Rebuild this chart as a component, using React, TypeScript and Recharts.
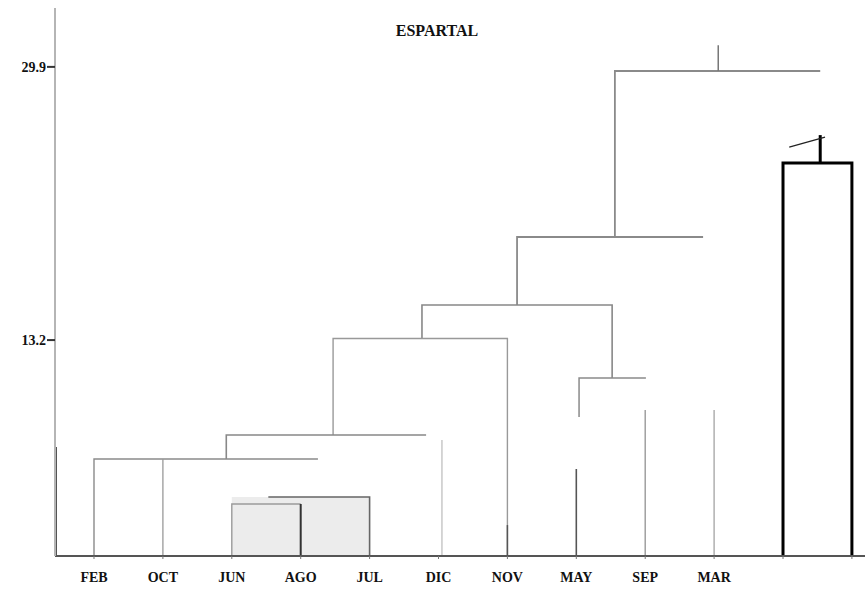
import { ComposedChart, Line, XAxis, YAxis, ReferenceArea } from "recharts";

// leaf order along the bottom of the dendrogram
const months = ["FEB", "OCT", "JUN", "AGO", "JUL", "DIC", "NOV", "MAY", "SEP", "MAR"];
const xTicks = [0, 1, 2, 3, 4, 5, 6, 7, 8, 9, 10, 11];
const yTicks = [13.2, 29.9];

// link paths as [position, height] pairs
const rootLink = [[7.56, 19.5], [7.56, 29.65], [10.54, 29.65]];
const rootStub = [[9.06, 29.65], [9.06, 31.23]];
const link19 = [[6.14, 15.34], [6.14, 19.5], [8.84, 19.5]];
const link15 = [[4.76, 13.3], [4.76, 15.34], [7.52, 15.34], [7.52, 10.88]];
const link13 = [[3.47, 7.4], [3.47, 13.3], [6, 13.3], [6, 0]];
const novLow = [[6, 0], [6, 1.89]];
const link7 = [[1.92, 5.93], [1.92, 7.4], [4.82, 7.4]];
const dicLeaf = [[5.05, 0], [5.05, 7.09]];
const link6 = [[0, 0], [0, 5.93], [3.25, 5.93]];
const octLeaf = [[1, 0], [1, 5.93]];
const junAgo = [[2, 0], [2, 3.18], [3, 3.18]];
const agoLeaf = [[3, 3.18], [3, 0]];
const julLink = [[2.53, 3.61], [4, 3.61], [4, 0]];
const mayLeaf = [[7, 0], [7, 5.32]];
const maySep = [[7.04, 8.5], [7.04, 10.88], [8.01, 10.88]];
const sepLeaf = [[8, 0], [8, 8.92]];
const marLeaf = [[9, 0], [9, 8.92]];
const outlierBox = [[10, 0], [10, 24.02], [11, 24.02], [11, 0]];
const outlierStub = [[10.54, 24.02], [10.54, 25.73]];
const outlierMark = [[10.09, 25.0], [10.61, 25.61]];
const axisDark = [[-0.56, 0], [-0.56, 6.66]];
const shaded = { x1: 2, x2: 4, y1: 0, y2: 3.6 };

const pts = (a: number[][]) => a.map(([x, y]) => ({ x, y }));

const serif = "'Liberation Serif', 'Times New Roman', serif";

export default function App() {
  const line = (d: number[][], key: string, c = "#8c8c8c", w = 1.5) => (
    <Line
      key={key}
      data={pts(d)}
      dataKey="y"
      type="linear"
      stroke={c}
      strokeWidth={w}
      dot={false}
      activeDot={false}
      isAnimationActive={false}
    />
  );
  return (
    <div style={{ position: "absolute", left: 0, top: 0, width: 865, height: 595, background: "#fff" }}>
      <div
        style={{
          position: "absolute",
          left: 0,
          width: 874,
          top: 22,
          textAlign: "center",
          fontFamily: serif,
          fontWeight: 700,
          fontSize: 16,
          color: "#111",
        }}
      >
        ESPARTAL
      </div>
      <ComposedChart width={865} height={595} margin={{ top: 8, right: 0, bottom: 0, left: 5 }}>
        <XAxis
          type="number"
          dataKey="x"
          domain={[-0.566, 11.19]}
          ticks={xTicks}
          tickFormatter={(i: number) => months[i] ?? ""}
          allowDataOverflow
          height={39}
          axisLine={{ stroke: "#555", strokeWidth: 2 }}
          tickLine={{ stroke: "#777" }}
          tickSize={3}
          tickMargin={13}
          tick={{ fill: "#111", fontSize: 14, fontFamily: serif, fontWeight: 700 }}
        />
        <YAxis
          type="number"
          domain={[0, 33.5]}
          ticks={yTicks}
          allowDataOverflow
          width={50}
          axisLine={{ stroke: "#b5b5b5", strokeWidth: 2 }}
          tickLine={{ stroke: "#333", strokeWidth: 2 }}
          tickSize={8}
          tickMargin={1}
          tick={{ fill: "#111", fontSize: 14, fontFamily: serif, fontWeight: 700 }}
        />
        <ReferenceArea {...shaded} fill="#ececec" fillOpacity={1} stroke="none" ifOverflow="visible" />
        {line(axisDark, "axisDark", "#444", 3)}
        {line(rootLink, "rootLink", "#8a8a8a", 1.8)}
        {line(rootStub, "rootStub", "#777", 1.5)}
        {line(link19, "link19", "#8a8a8a", 1.8)}
        {line(link15, "link15", "#888", 1.6)}
        {line(link13, "link13", "#999", 1.4)}
        {line(novLow, "novLow", "#555", 1.5)}
        {line(link7, "link7", "#888", 1.6)}
        {line(dicLeaf, "dicLeaf", "#c4c4c4", 1.4)}
        {line(link6, "link6", "#8a8a8a", 1.4)}
        {line(octLeaf, "octLeaf", "#999", 1.3)}
        {line(junAgo, "junAgo", "#9a9a9a", 1.4)}
        {line(agoLeaf, "agoLeaf", "#333", 2)}
        {line(julLink, "julLink", "#666", 1.6)}
        {line(mayLeaf, "mayLeaf", "#555", 1.6)}
        {line(maySep, "maySep", "#8a8a8a", 1.5)}
        {line(sepLeaf, "sepLeaf", "#999", 1.4)}
        {line(marLeaf, "marLeaf", "#aaa", 1.4)}
        {line(outlierBox, "outlierBox", "#000", 3)}
        {line(outlierStub, "outlierStub", "#000", 3)}
        {line(outlierMark, "outlierMark", "#222", 1.3)}
      </ComposedChart>
    </div>
  );
}
